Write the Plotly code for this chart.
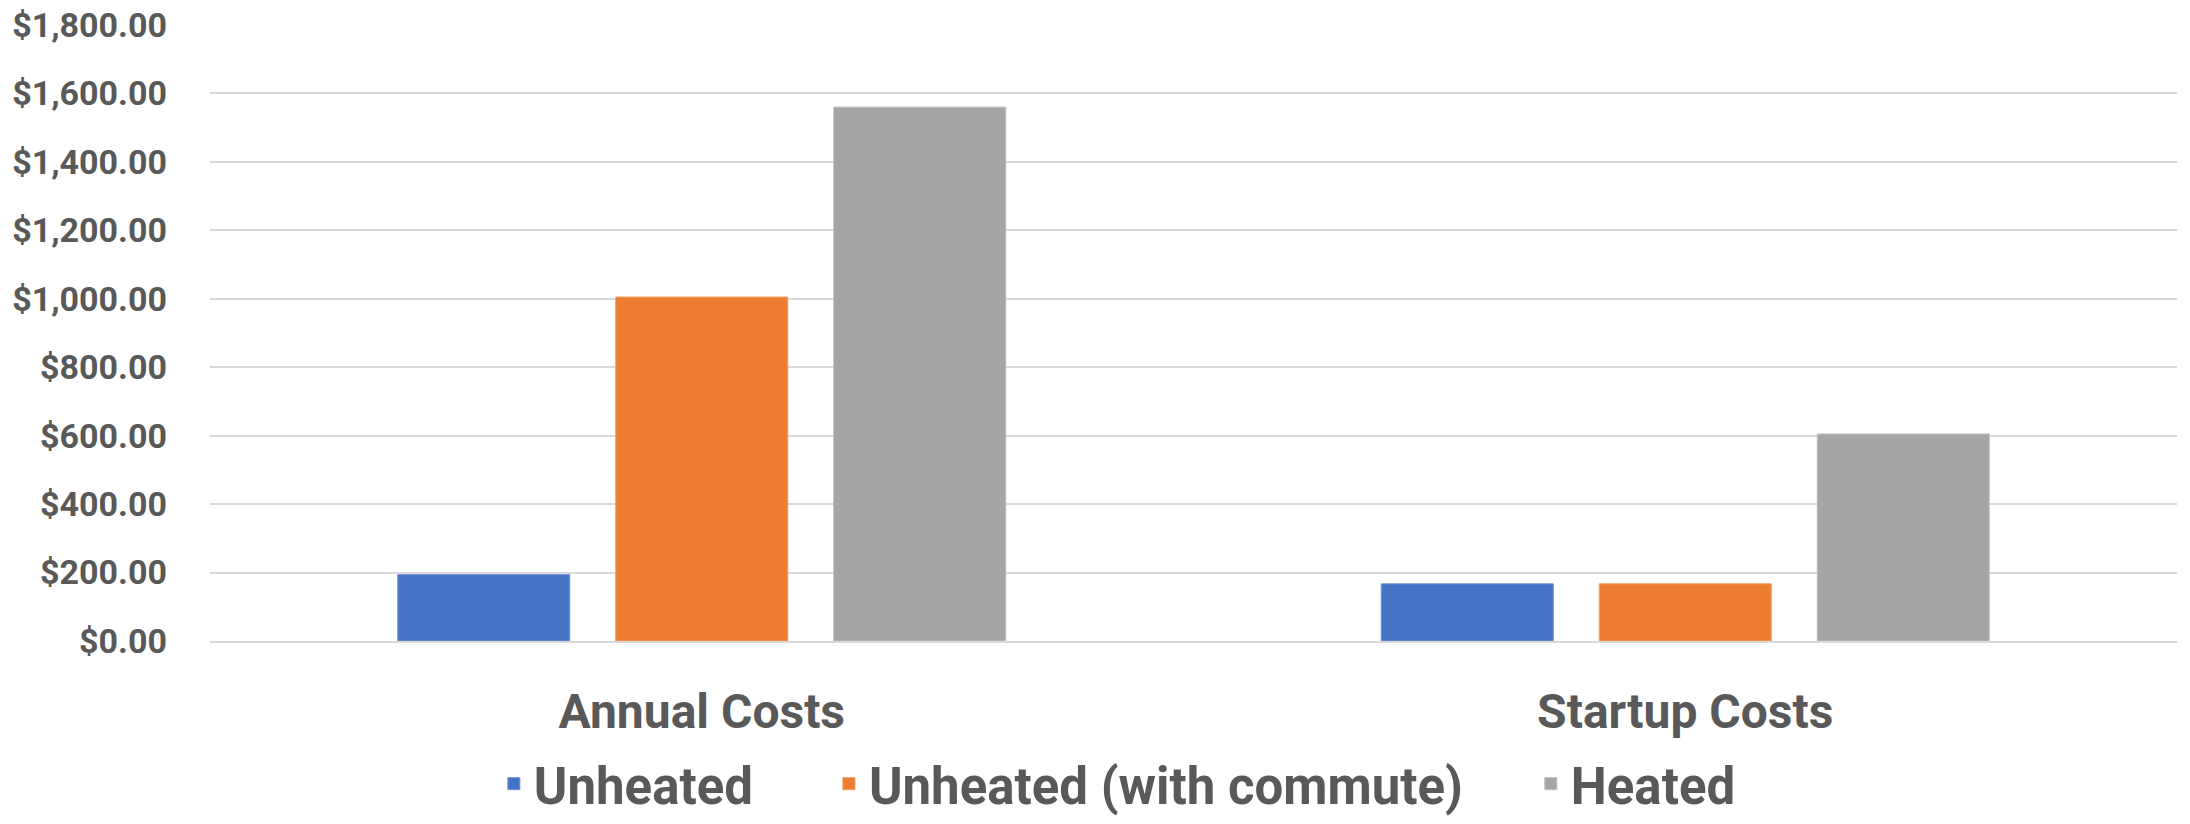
import plotly.graph_objects as go

# Cost comparison data
categories = ["Annual Costs", "Startup Costs"]
series_names = ["Unheated", "Unheated (with commute)", "Heated"]
unheated = [194, 167]
unheated_commute = [1005, 167]
heated = [1560, 605]
y_ticks = [0, 200, 400, 600, 800, 1000, 1200, 1400, 1600, 1800]

colors = ["#4472C4", "#ED7D31", "#A5A5A5"]
edge_colors = ["#6F93D2", "#F29A5E", "#BDBDBD"]
text_color = "#595959"
grid_color = "#D9D9D9"
font_family = "Roboto, 'Open Sans', sans-serif"

# one legend box per series so each entry sits at its own horizontal spot
legend_ids = ["legend", "legend2", "legend3"]
legend_x = [0.2255, 0.3785, 0.6990]

fig = go.Figure()
for name, values, color, edge, lid in zip(series_names, [unheated, unheated_commute, heated],
                                          colors, edge_colors, legend_ids):
    fig.add_trace(go.Bar(
        x=categories,
        y=values,
        name=name,
        legend=lid,
        marker=dict(color=color, line=dict(color=edge, width=1)),
        hovertemplate="%{x}<br>" + name + ": %{y:$,.2f}<extra></extra>",
    ))

legend_style = dict(
    orientation="h",
    xref="container",
    yref="container",
    xanchor="left",
    y=-0.011,
    yanchor="bottom",
    font=dict(size=51, family=font_family, color=text_color, weight="bold"),
    bgcolor="rgba(0,0,0,0)",
)

fig.update_layout(
    width=2190,
    height=824,
    margin=dict(l=210, r=13, t=25, b=183, autoexpand=False),
    paper_bgcolor="white",
    plot_bgcolor="white",
    barmode="group",
    bargap=0.335,
    bargroupgap=0.211,
    font=dict(family=font_family, color=text_color, weight="bold"),
    showlegend=True,
    legend=dict(legend_style, x=legend_x[0]),
    legend2=dict(legend_style, x=legend_x[1]),
    legend3=dict(legend_style, x=legend_x[2]),
)

fig.update_yaxes(
    range=[0, 1800],
    tickvals=y_ticks,
    tickformat="$,.2f",
    showgrid=True,
    gridcolor=grid_color,
    gridwidth=1.5,
    zeroline=False,
    showline=False,
    ticks="",
    ticklabelstandoff=42,
    automargin=False,
    tickfont=dict(size=34, family=font_family, color=text_color, weight="bold"),
)

fig.update_xaxes(
    showline=True,
    linecolor=grid_color,
    linewidth=1.5,
    ticks="",
    ticklabelstandoff=28,
    automargin=False,
    tickfont=dict(size=48, family=font_family, color=text_color, weight="bold"),
)

fig.write_html("out.html")
